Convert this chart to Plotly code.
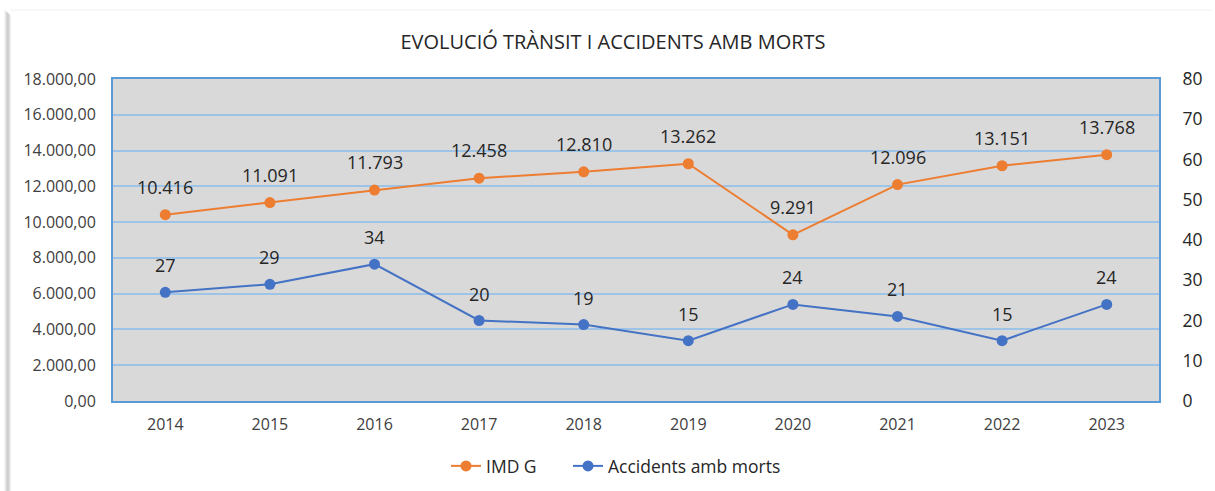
import plotly.graph_objects as go

years = ["2014", "2015", "2016", "2017", "2018", "2019", "2020", "2021", "2022", "2023"]
imd_g = [10416, 11091, 11793, 12458, 12810, 13262, 9291, 12096, 13151, 13768]
accidents = [27, 29, 34, 20, 19, 15, 24, 21, 15, 24]

ORANGE = "#ED7D31"
BLUE = "#4472C4"
GRID = "#9DC3E6"
BORDER = "#5B9BD5"
FONT = "Open Sans"

fig = go.Figure()
fig.add_trace(go.Scatter(x=years, y=imd_g, name="IMD G", mode="lines+markers",
                         line=dict(color=ORANGE, width=2), marker=dict(color=ORANGE, size=11),
                         yaxis="y", legend="legend"))
fig.add_trace(go.Scatter(x=years, y=accidents, name="Accidents amb morts", mode="lines+markers",
                         line=dict(color=BLUE, width=2), marker=dict(color=BLUE, size=11),
                         yaxis="y2", legend="legend2"))

for i, v in enumerate(imd_g):
    fig.add_annotation(x=i, y=v, xref="x", yref="y", text=f"{v:,}".replace(",", "."),
                       showarrow=False, yshift=28, yanchor="middle",
                       font=dict(family=FONT, size=18, color="#262626"))
for i, v in enumerate(accidents):
    fig.add_annotation(x=i, y=v, xref="x", yref="y2", text=str(v), showarrow=False,
                       yshift=27, yanchor="middle", font=dict(family=FONT, size=18, color="#262626"))

# card shadow on the left edge and faint top edge
L, W = 113, 1050
T, H = 79, 322
def px(xp):
    return (xp - L) / W
def py(yp):
    return 1 - (yp - T) / H
shades = ["#f0f0f0", "#dcdcdc", "#c8c8c8", "#bdbdbd", "#c4c4c4", "#d8d8d8"]
for i, c in enumerate(shades):
    fig.add_shape(type="rect", xref="paper", yref="paper", x0=px(4 + i), x1=px(5 + i),
                  y0=py(491), y1=py(10 + i), fillcolor=c, line=dict(width=0), layer="below")
fig.add_shape(type="line", xref="paper", yref="paper", x0=px(10), x1=px(1215), y0=py(10), y1=py(10),
              line=dict(color="#f2f2f2", width=1), layer="below")

legend_common = dict(orientation="h", xref="container", yref="container",
                     y=1 - 466 / 491, xanchor="left", yanchor="middle",
                     font=dict(family=FONT, size=17.5, color="#262626"), bgcolor="rgba(0,0,0,0)")

fig.update_layout(
    width=1215, height=491,
    margin=dict(l=L, r=1215 - L - W, t=T, b=491 - T - H),
    paper_bgcolor="white", plot_bgcolor="#D9D9D9",
    separators=",.",
    font=dict(family=FONT, size=16, color="#404040"),
    title=dict(text="EVOLUCIÓ TRÀNSIT I ACCIDENTS AMB MORTS", xref="container", yref="container",
               x=613 / 1215, y=1 - 42 / 491, xanchor="center", yanchor="middle",
               font=dict(family=FONT, size=20, color="#262626")),
    xaxis=dict(type="category", range=[-0.5, 9.5], showgrid=False, showline=True, mirror=True,
               linecolor=BORDER, linewidth=2, ticks="", ticklabelstandoff=8,
               tickfont=dict(size=16, color="#404040")),
    yaxis=dict(range=[0, 18000], dtick=2000, tickformat=",.2f", showgrid=True, gridcolor=GRID,
               gridwidth=2, zeroline=False, showline=True, linecolor=BORDER, linewidth=2,
               ticks="", ticklabelstandoff=12, tickfont=dict(size=16, color="#404040")),
    yaxis2=dict(range=[0, 80], dtick=10, overlaying="y", side="right", showgrid=False,
                zeroline=False, showline=True, linecolor=BORDER, linewidth=2, ticks="",
                ticklabelstandoff=18, tickfont=dict(size=17.5, color="#262626")),
    showlegend=True,
    legend=dict(x=446 / 1215, **legend_common),
    legend2=dict(x=568 / 1215, **legend_common),
)

fig.write_html("out.html", config={"displayModeBar": False},
               post_script="document.body.style.margin='0';")
